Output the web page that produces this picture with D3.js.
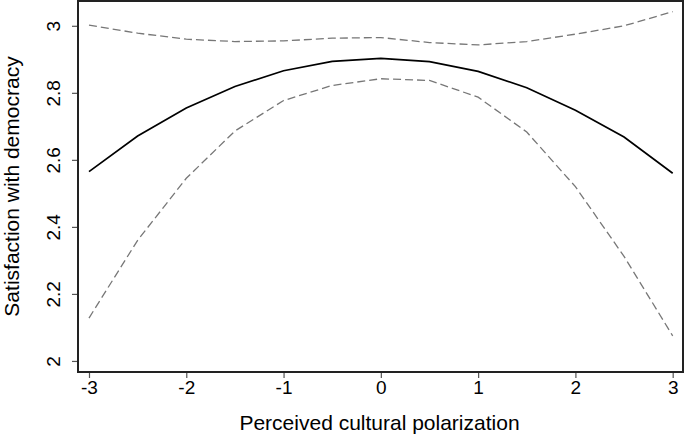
<!DOCTYPE html>
<html>
<head>
<meta charset="utf-8">
<script src="https://cdn.jsdelivr.net/npm/d3@7"></script>
<style>
  body { margin: 0; background: #fff; }
  text { font-family: "Liberation Sans", Arial, sans-serif; fill: #000; }
</style>
</head>
<body>
<svg id="chart" width="685" height="438"></svg>
<script>
// 预测值及置信区间
const xs = [-3, -2.5, -2, -1.5, -1, -0.5, 0, 0.5, 1, 1.5, 2, 2.5, 3];
const fit = [2.565, 2.671, 2.755, 2.819, 2.866, 2.894, 2.903, 2.893, 2.864, 2.815, 2.748, 2.668, 2.56];
const upper = [3.002, 2.978, 2.96, 2.953, 2.955, 2.963, 2.965, 2.95, 2.943, 2.953, 2.975, 3.0, 3.042];
const lower = [2.128, 2.36, 2.545, 2.686, 2.777, 2.822, 2.842, 2.837, 2.787, 2.683, 2.52, 2.312, 2.075];
const xTicks = [-3, -2, -1, 0, 1, 2, 3];
const yTicks = [2, 2.2, 2.4, 2.6, 2.8, 3];

const svg = d3.select('#chart');
const mLeft = 78, mRight = 683, mTop = 1, mBottom = 372;

const x = d3.scaleLinear().domain([-3.113, 3.106]).range([mLeft, mRight]);
const y = d3.scaleLinear().domain([1.967, 3.074]).range([mBottom, mTop]);

//坐标轴
const xAxis = svg.append('g')
  .attr('transform', `translate(0,${mBottom})`)
  .call(d3.axisBottom(x).tickValues(xTicks).tickSize(6).tickPadding(3).tickFormat(d3.format('d')));
xAxis.select('.domain').remove();
xAxis.selectAll('line').attr('stroke', '#555').attr('stroke-width', 1.2);
xAxis.selectAll('text').attr('font-size', 19).attr('fill', '#000')
  .text((d) => (d < 0 ? '-' + Math.abs(d) : d));

const yAxis = svg.append('g')
  .attr('transform', `translate(${mLeft},0)`)
  .call(d3.axisLeft(y).tickValues(yTicks).tickSize(6).tickFormat((d) => String(d)));
yAxis.select('.domain').remove();
yAxis.selectAll('line').attr('stroke', '#555').attr('stroke-width', 1.2);
yAxis.selectAll('text')
  .attr('font-size', 19)
  .attr('fill', '#000')
  .attr('text-anchor', 'middle')
  .attr('x', 0)
  .attr('dy', 0)
  .attr('transform', 'translate(-25,0) rotate(-90)')
  .attr('dominant-baseline', 'central');

//外框
svg.append('rect')
  .attr('x', mLeft).attr('y', mTop)
  .attr('width', mRight - mLeft).attr('height', mBottom - mTop)
  .attr('fill', 'none').attr('stroke', '#222').attr('stroke-width', 2);

const line = (vals) => d3.line().x((d, i) => x(xs[i])).y((d) => y(d))(vals);

svg.append('path').attr('d', line(upper))
  .attr('fill', 'none').attr('stroke', '#777').attr('stroke-width', 1.3).attr('stroke-dasharray', '8,4');
svg.append('path').attr('d', line(lower))
  .attr('fill', 'none').attr('stroke', '#777').attr('stroke-width', 1.3).attr('stroke-dasharray', '8,4');
svg.append('path').attr('d', line(fit))
  .attr('fill', 'none').attr('stroke', '#000').attr('stroke-width', 1.7);

//轴标题
svg.append('text')
  .attr('x', (mLeft + mRight) / 2 - 1).attr('y', 430)
  .attr('text-anchor', 'middle').attr('font-size', 21)
  .text('Perceived cultural polarization');
svg.append('text')
  .attr('transform', `translate(19,${(mTop + mBottom) / 2}) rotate(-90)`)
  .attr('text-anchor', 'middle').attr('font-size', 21)
  .text('Satisfaction with democracy');
</script>
</body>
</html>
